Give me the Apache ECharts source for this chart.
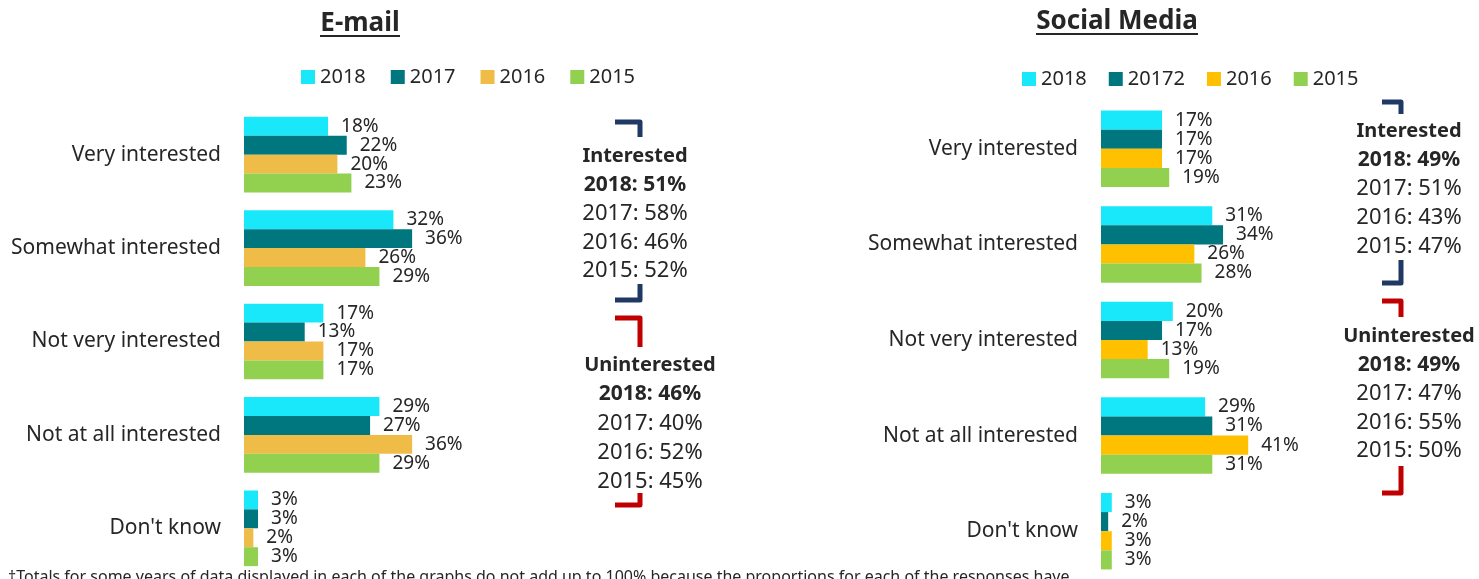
<!DOCTYPE html>
<html><head><meta charset="utf-8">
<script src="https://cdn.jsdelivr.net/npm/echarts@6/dist/echarts.min.js"></script>
<style>html,body{margin:0;padding:0;background:#fff}#c{width:1479px;height:579px}</style>
</head><body><div id="c"></div>
<script>
var categories = ['Very interested','Somewhat interested','Not very interested','Not at all interested',"Don't know"];
var emailYears = ['2018','2017','2016','2015'];
var socialYears = ['2018','20172','2016','2015'];
var email2018 = [18,32,17,29,3];
var email2017 = [22,36,13,27,3];
var email2016 = [20,26,17,36,2];
var email2015 = [23,29,17,29,3];
var social2018 = [17,31,20,29,3];
var social2017 = [17,34,17,31,2];
var social2016 = [17,26,13,41,3];
var social2015 = [19,28,19,31,3];
var emailInterested = [51,58,46,52];
var emailUninterested = [46,40,52,45];
var socialInterested = [49,51,43,47];
var socialUninterested = [49,47,55,50];
var summaryYears = ['2018','2017','2016','2015'];

var FONT = 'Noto Sans';
var TXT = '#262626';
var emailColors = ['#19E8FB','#00767E','#F0BC48','#92D050'];
var socialColors = ['#19E8FB','#00767E','#FFC000','#92D050'];

function mkSeries(names, prefix, data, colors, idx){
  return names.map(function(n,i){
    return {
      type:'bar', name: prefix+n, xAxisIndex: idx, yAxisIndex: idx,
      data: data[i], barGap: '0%', barCategoryGap: idx===0 ? '19%' : '20%',
      itemStyle:{color: colors[i]},
      label:{show:true, position:'right', distance:13, formatter:'{c}%', color:TXT, fontFamily:FONT, fontSize:19},
      animation:false
    };
  });
}
var series = mkSeries(emailYears,'E ',[email2018,email2017,email2016,email2015],emailColors,0)
  .concat(mkSeries(socialYears,'S ',[social2018,social2017,social2016,social2015],socialColors,1));

function summary(cx, y0, step, title, vals){
  var els = [];
  els.push({type:'text', style:{text:title, x:cx, y:y0+1, align:'center', verticalAlign:'middle', font:'bold 20px "'+FONT+'"', fill:TXT}});
  vals.forEach(function(v,i){
    els.push({type:'text', style:{text: summaryYears[i]+': '+v+'%', x:cx, y:y0+1+step*(i+1), align:'center', verticalAlign:'middle', font:(i===0?'bold 21px ':'22px ')+'"'+FONT+'"', fill:TXT}});
  });
  return els;
}
function bracket(pts, color){
  return {type:'polyline', shape:{points:pts}, style:{stroke:color, lineWidth:5, fill:null, lineJoin:'round', lineCap:'butt'}};
}
function uline(x1,x2,y){
  return {type:'line', shape:{x1:x1,y1:y,x2:x2,y2:y}, style:{stroke:TXT, lineWidth:2}};
}
var NAVY='#1F3864', RED='#C00000';
var graphics = [].concat(
  summary(635,155,28.8,'Interested',emailInterested),
  summary(650,364,29.3,'Uninterested',emailUninterested),
  summary(1409,130,29,'Interested',socialInterested),
  summary(1409,335,28.8,'Uninterested',socialUninterested),
  [
    bracket([[615,122],[640,122],[640,137]],NAVY),
    bracket([[640,284],[640,300],[615,300]],NAVY),
    bracket([[615,318],[640,318],[640,347]],RED),
    bracket([[640,493],[640,505],[615,505]],RED),
    bracket([[1382,102],[1401,102],[1401,114]],NAVY),
    bracket([[1401,260],[1401,283],[1382,283]],NAVY),
    bracket([[1382,301],[1401,301],[1401,317]],RED),
    bracket([[1401,466],[1401,493],[1382,493]],RED),
    uline(320,400,36),
    uline(1036,1198,34),
    {type:'text', style:{text:'†Totals for some years of data displayed in each of the graphs do not add up to 100% because the proportions for each of the responses have', x:8, y:569, font:'16px "'+FONT+'"', fill:TXT}}
  ]
);

var chart = echarts.init(document.getElementById('c'), null, {renderer:'canvas'});
chart.setOption({
  animation:false,
  title:[
    {text:'E-mail', left:355, top:6, textAlign:'center', textStyle:{fontFamily:FONT, fontSize:26, fontWeight:'bold', color:TXT}},
    {text:'Social Media', left:1112, top:4, textAlign:'center', textStyle:{fontFamily:FONT, fontSize:26, fontWeight:'bold', color:TXT}}
  ],
  legend:[
    {data: emailYears.map(function(n){return 'E '+n;}), left:296, top:62, itemWidth:14, itemHeight:14, itemGap:25, icon:'rect',
     formatter:function(n){return n.slice(2);}, textStyle:{fontFamily:FONT, fontSize:20, color:TXT}},
    {data: socialYears.map(function(n){return 'S '+n;}), left:1017, top:64, itemWidth:14, itemHeight:14, itemGap:22, icon:'rect',
     formatter:function(n){return n.slice(2);}, textStyle:{fontFamily:FONT, fontSize:20, color:TXT}}
  ],
  grid:[
    {left:244, top:108, width:467, height:467},
    {left:1101, top:101, width:359, height:488}
  ],
  xAxis:[
    {gridIndex:0, type:'value', min:0, max:100, show:false},
    {gridIndex:1, type:'value', min:0, max:100, show:false}
  ],
  yAxis:[
    {gridIndex:0, type:'category', data:categories, inverse:true, axisLine:{show:false}, axisTick:{show:false},
     axisLabel:{margin:23, fontFamily:FONT, fontSize:21, color:TXT}},
    {gridIndex:1, type:'category', data:categories, inverse:true, axisLine:{show:false}, axisTick:{show:false},
     axisLabel:{margin:23, fontFamily:FONT, fontSize:21, color:TXT}}
  ],
  series: series,
  graphic: graphics
});
</script></body></html>
